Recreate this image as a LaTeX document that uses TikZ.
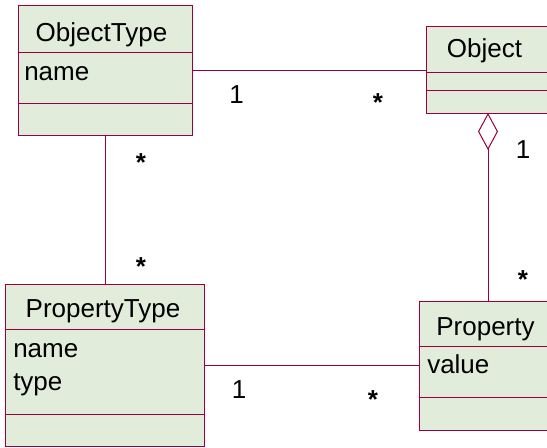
\documentclass[tikz,border=0pt]{standalone}
\usepackage{fontspec}
\setmainfont{Liberation Sans}
\usetikzlibrary{arrows.meta}
\definecolor{umlred}{RGB}{153,0,61}
\definecolor{umlfill}{RGB}{226,236,219}
\tikzset{
  cls/.style={draw=umlred, fill=umlfill, line width=0.75pt, inner sep=0pt, anchor=north west},
  sep/.style={draw=umlred, line width=0.75pt},
  assoc/.style={draw=umlred, line width=0.75pt},
  txt/.style={inner sep=0pt, font=\fontsize{19.5}{23}\selectfont},
  mult/.style={inner sep=0pt, font=\fontsize{19.5}{23}\selectfont},
  star/.style={inner sep=0pt, anchor=north, font=\fontsize{19.5}{23}\selectfont\bfseries}
}
\begin{document}
\begin{tikzpicture}[x=0.75pt,y=-0.75pt]
	\useasboundingbox (0,0) rectangle (547,447);
	\clip (0,0) rectangle (547,447);
	% classes
	\node[cls, minimum width=130.5pt, minimum height=97.5pt] (ot) at (18,5) {};
	\node[cls, minimum width=94.5pt, minimum height=65.25pt] (obj) at (426,26) {};
	\node[cls, minimum width=149.25pt, minimum height=121.5pt] (pt) at (5,284) {};
	\node[cls, minimum width=99.75pt, minimum height=96.75pt] (prop) at (419,301) {};
	
	\draw[sep] (18,52) -- (192,52);
	\draw[sep] (18,103) -- (192,103);
	\draw[sep] (426,72) -- (552,72);
	\draw[sep] (426,90) -- (552,90);
	\draw[sep] (5,329) -- (204,329);
	\draw[sep] (5,414) -- (204,414);
	\draw[sep] (419,346) -- (552,346);
	\draw[sep] (419,397) -- (552,397);
	
	\node[txt, anchor=base] (ottitle) at (101.5,41) {ObjectType};
	\node[txt, anchor=base west] (otname) at (24,80) {name};
	\node[txt, anchor=base] (objtitle) at (484.5,57) {Object};
	\node[txt, anchor=base] (pttitle) at (103,317) {PropertyType};
	\node[txt, anchor=base west] (ptname) at (13,357) {name};
	\node[txt, anchor=base west] (pttype) at (13,390) {type};
	\node[txt, anchor=base] (proptitle) at (485.5,335) {Property};
	\node[txt, anchor=base west] (propvalue) at (427,373) {value};
	
	% associations
	\draw[assoc] (ot.east) -- (ot.east -| obj.west);
	\draw[assoc] (ot.south) -- (ot.south |- pt.north);
	\draw[assoc] (pt.east) -- (pt.east -| prop.west);
	\coordinate (aggtip) at (488,113);
	\draw[assoc, -{Diamond[open, length=27.75pt, width=15pt]}] (aggtip |- prop.north) -- (aggtip);
	
	% multiplicities
	\node[mult, anchor=base] (m1) at (236.5,103) {1};
	\node[star] (m2) at (378,93) {*};
	\node[star] (m3) at (141,153) {*};
	\node[star] (m4) at (141,257) {*};
	\node[mult, anchor=base] (m5) at (523,158) {1};
	\node[star] (m6) at (523,270) {*};
	\node[mult, anchor=base] (m7) at (239,398) {1};
	\node[star] (m8) at (373,390) {*};
\end{tikzpicture}
\end{document}
